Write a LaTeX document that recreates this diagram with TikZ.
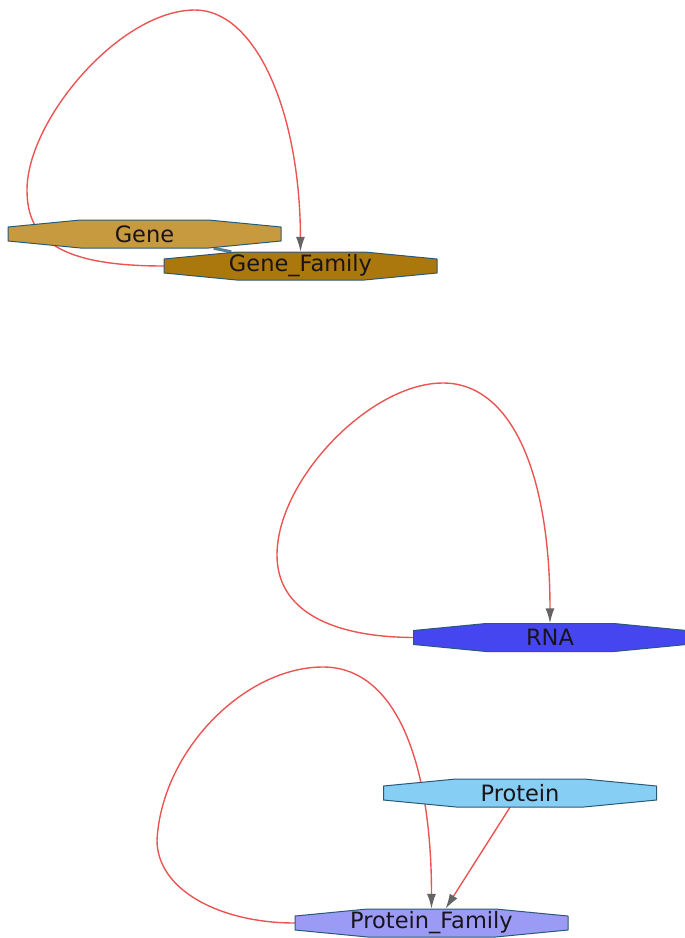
\documentclass[tikz,border=0pt]{standalone}
\usepackage{fontspec}
\setmainfont{DejaVu Sans}
\usetikzlibrary{arrows.meta,calc,backgrounds}
\definecolor{genecol}{RGB}{200,154,64}
\definecolor{gfcol}{RGB}{170,120,12}
\definecolor{rnacol}{RGB}{70,70,240}
\definecolor{protcol}{RGB}{135,206,245}
\definecolor{pfcol}{RGB}{155,155,245}
\definecolor{bordercol}{RGB}{40,90,120}
\definecolor{edgecol}{RGB}{236,84,84}
\definecolor{tipcol}{RGB}{100,100,100}
\definecolor{stubcol}{RGB}{80,130,150}
\definecolor{txtcol}{RGB}{25,20,25}
\tikzset{
  octa/.style={draw=bordercol, line width=1pt, line join=round},
  lbl/.style={draw=none, inner sep=0pt, minimum width=273pt, minimum height=28pt,
    text=txtcol, font=\fontsize{22.5}{26}\selectfont},
  edge/.style={draw=edgecol, line width=1.4pt, -{Latex[length=15pt,width=9pt,color=tipcol]}},
  stub/.style={draw=stubcol, line width=3pt}
}
\newcommand\octshape[2]{%
  \begin{scope}[shift={(#1)}]
    \draw[octa, fill=#2] (-136.5,-7) -- (-64,-14) -- (64,-14) -- (136.5,-7) -- (136.5,7)
      -- (64,14) -- (-64,14) -- (-136.5,7) -- cycle;
  \end{scope}}
\begin{document}
\begin{tikzpicture}[x=1pt,y=-1pt]
\useasboundingbox (0,0) rectangle (685,938);
% nodes
\octshape{144.5,234}{genecol}
\node[lbl] (gene) at (144.5,234) {Gene};
\octshape{300.5,266}{gfcol}
\node[lbl] (gf) at (300.5,266) {Gene\_Family};
\octshape{550,637.5}{rnacol}
\node[lbl] (rna) at (550,637.5) {RNA};
\octshape{520,793}{protcol}
\node[lbl] (prot) at (520,793) {Protein};
\octshape{431.5,923}{pfcol}
\node[lbl] (pf) at (431.5,923) {Protein\_Family};
% edges
\begin{scope}[on background layer]
\draw[stub] (gene) -- (gf);
\draw[edge] (gf.west) .. controls (60,266) and (27,240) .. (27,190)
  .. controls (27,120) and (120,10) .. (195,10)
  .. controls (255,10) and (300,110) .. (gf.north);
\draw[edge] (rna.west) .. controls (330,637) and (277,610) .. (277,555)
  .. controls (277,480) and (370,383) .. (443,383)
  .. controls (510,383) and (550,470) .. (rna.north);
\draw[edge] (pf.west) .. controls (220,923) and (157,890) .. (157,840)
  .. controls (162,750) and (245,667) .. (323,667)
  .. controls (395,667) and (431.5,760) .. (pf.north);
\draw[edge] ([xshift=-10pt]prot.south) -- ([xshift=14pt]pf.north);
\end{scope}
\end{tikzpicture}
\end{document}
